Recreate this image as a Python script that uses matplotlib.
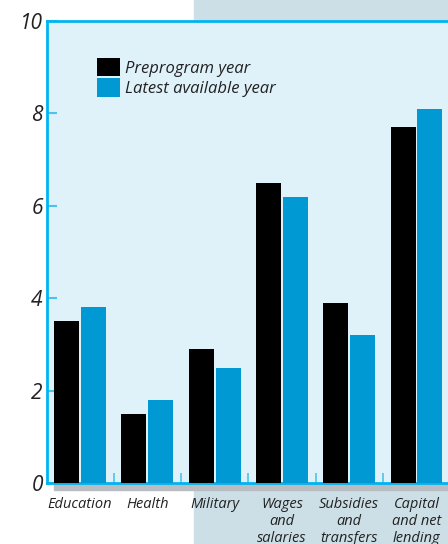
import numpy as np
import matplotlib
matplotlib.use('Agg')
import matplotlib.pyplot as plt
from matplotlib.patches import Rectangle

# datos
categorias = ['Education', 'Health', 'Military', 'Wages\nand\nsalaries',
              'Subsidies\nand\ntransfers', 'Capital\nand net\nlending']
preprogram = [3.5, 1.5, 2.9, 6.5, 3.9, 7.7]
latest = [3.8, 1.8, 2.5, 6.2, 3.2, 8.1]
yticks = [0, 2, 4, 6, 8, 10]

NEGRO = '#000000'
AZUL = '#0099d4'
BORDE = '#00b4f0'
FONDO_AX = '#dff2fa'
FONDO_DER = '#cddfe6'
TEXTO = '#222222'

plt.rcParams['font.family'] = ['Open Sans', 'DejaVu Sans']

W, H = 448, 544
fig = plt.figure(figsize=(W / 100, H / 100), dpi=100)
fig.patch.set_facecolor('white')

# fondo gris-azulado a la derecha y barra gris bajo el eje
fig.patches.append(Rectangle((194 / W, 0), 1 - 194 / W, 1, transform=fig.transFigure,
                             color=FONDO_DER, zorder=-2))
fig.patches.append(Rectangle((54 / W, (H - 490) / H), 1 - 54 / W, 6 / H,
                             transform=fig.transFigure, color='#b9bcc0', zorder=-1))

left_px, right_px, top_px, bot_px = 47, 460, 21, 483
ax = fig.add_axes([left_px / W, (H - bot_px) / H, (right_px - left_px) / W,
                   (bot_px - top_px) / H])
ax.set_zorder(1)
ax.set_facecolor(FONDO_AX)

x = np.arange(len(categorias))
off, w = 0.2, 0.372
ax.bar(x - off, preprogram, w, color=NEGRO, label='Preprogram year', zorder=3)
ax.bar(x + off, latest, w, color=AZUL, label='Latest available year', zorder=3)

ax.set_xlim(-0.49, (right_px - 80) / 67.3)
ax.set_ylim(0, 10)

for s in ['left', 'top', 'bottom']:
    ax.spines[s].set_color(BORDE)
    ax.spines[s].set_linewidth(2)
ax.spines['right'].set_visible(False)

ax.set_yticks(yticks)
ax.set_yticklabels([str(v) for v in yticks], fontsize=15, style='italic', color=TEXTO)
ax.tick_params(axis='y', direction='in', length=7, width=1.5, color='#4cc3ee', pad=3)

ax.set_xticks(x)
ax.set_xticklabels(categorias, fontsize=10.5, style='italic', color=TEXTO,
                   linespacing=1.2, va='top')
ax.tick_params(axis='x', which='major', length=0, pad=10)
ax.set_xticks(x[:-1] + 0.5, minor=True)
ax.tick_params(axis='x', which='minor', direction='in', length=7, width=1.2,
               color='#4cc3ee')

leg = ax.legend(loc='upper left', bbox_to_anchor=(0.105, 0.935), frameon=False,
                fontsize=12, handlelength=1.35, handleheight=1.35,
                handletextpad=0.3, labelspacing=0.1, borderaxespad=0)
for t in leg.get_texts():
    t.set_style('italic')
    t.set_color(TEXTO)

fig.savefig('out.png', dpi=100)
